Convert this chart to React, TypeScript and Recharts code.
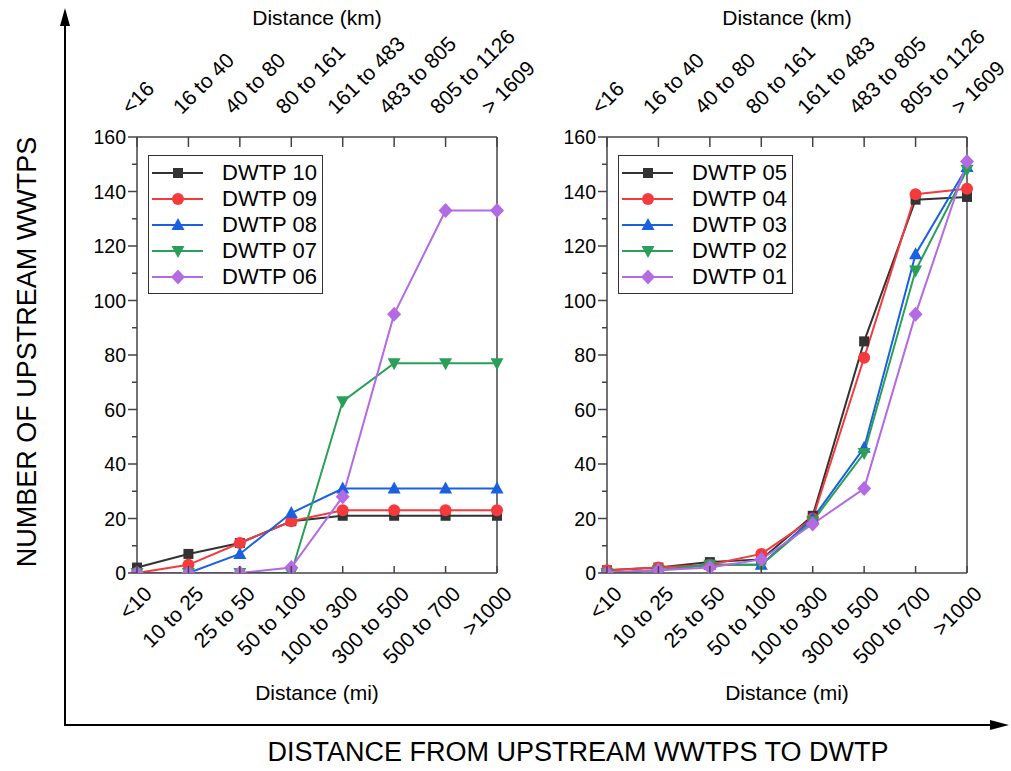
import { LineChart, Line, XAxis, YAxis, Legend, Label } from 'recharts';

const FONT = '"Liberation Sans", Arial, Helvetica, sans-serif';
const AXIS = '#444';

const miLabels = ['<10', '10 to 25', '25 to 50', '50 to 100', '100 to 300', '300 to 500', '500 to 700', '>1000'];
const kmLabels = ['<16', '16 to 40', '40 to 80', '80 to 161', '161 to 483', '483 to 805', '805 to 1126', '> 1609'];
const yTicks = [0, 10, 20, 30, 40, 50, 60, 70, 80, 90, 100, 110, 120, 130, 140, 150, 160];

// left panel
const dwtp10 = [2, 7, 11, 19, 21, 21, 21, 21];
const dwtp09 = [0, 3, 11, 19, 23, 23, 23, 23];
const dwtp08 = [0, 0, 7, 22, 31, 31, 31, 31];
const dwtp07 = [0, 0, 0, 0, 63, 77, 77, 77];
const dwtp06 = [0, 0, 0, 2, 28, 95, 133, 133];

// right panel
const dwtp05 = [1, 2, 4, 5, 21, 85, 137, 138];
const dwtp04 = [1, 2, 3, 7, 20, 79, 139, 141];
const dwtp03 = [0, 1, 3, 3, 20, 46, 117, 149];
const dwtp02 = [0, 1, 3, 3, 19, 44, 111, 148];
const dwtp01 = [0, 1, 2, 5, 18, 31, 95, 151];

const colors = ['#333333', '#f53a3e', '#1a60e0', '#2a9f5a', '#b36ae2'];
const shapes = ['square', 'circle', 'triangle', 'triangleDown', 'diamond'];

const leftSeries = [
    { name: 'DWTP 10', values: dwtp10 },
    { name: 'DWTP 09', values: dwtp09 },
    { name: 'DWTP 08', values: dwtp08 },
    { name: 'DWTP 07', values: dwtp07 },
    { name: 'DWTP 06', values: dwtp06 }
];

const rightSeries = [
    { name: 'DWTP 05', values: dwtp05 },
    { name: 'DWTP 04', values: dwtp04 },
    { name: 'DWTP 03', values: dwtp03 },
    { name: 'DWTP 02', values: dwtp02 },
    { name: 'DWTP 01', values: dwtp01 }
];

const Marker = ({ cx, cy, shape, color }: { cx: number; cy: number; shape: string; color: string }) => {
    if (cx == null || cy == null) return null;
    switch (shape) {
        case 'square':
            return <rect x={cx - 5} y={cy - 5} width={10} height={10} fill={color} />;
        case 'circle':
            return <circle cx={cx} cy={cy} r={6} fill={color} />;
        case 'triangle':
            return <polygon points={`${cx},${cy - 7} ${cx + 6.5},${cy + 5} ${cx - 6.5},${cy + 5}`} fill={color} />;
        case 'triangleDown':
            return <polygon points={`${cx},${cy + 7} ${cx + 6.5},${cy - 5} ${cx - 6.5},${cy - 5}`} fill={color} />;
        default:
            return <polygon points={`${cx},${cy - 7.5} ${cx + 7},${cy} ${cx},${cy + 7.5} ${cx - 7},${cy}`} fill={color} />;
    }
};

const YTick = ({ x, y, payload }: any) => {
    const major = payload.value % 20 === 0;
    return (
        <g>
            <line x1={x - (major ? 9 : 5)} x2={x} y1={y} y2={y} stroke={AXIS} strokeWidth={1.5} />
            {major && (
                <text x={x - 11} y={y} textAnchor="end" dominantBaseline="central" fontSize={19.5} fontFamily={FONT} fill="#000">
                    {payload.value}
                </text>
            )}
        </g>
    );
};

const BottomTick = ({ x, y, payload }: any) => {
    const tx = x + 11;
    const ty = y + 17;
    return (
        <g>
            <line x1={x} x2={x} y1={y} y2={y - 7} stroke={AXIS} strokeWidth={1.5} />
            <text x={tx} y={ty} textAnchor="end" dominantBaseline="central" fontSize={21} fontFamily={FONT} fill="#000"
                transform={`rotate(-45, ${tx}, ${ty})`}>
                {payload.value}
            </text>
        </g>
    );
};

const TopTick = ({ x, y, payload }: any) => {
    const tx = x - 12;
    const ty = y - 27;
    return (
        <g>
            <line x1={x} x2={x} y1={y} y2={y + 10} stroke={AXIS} strokeWidth={1.5} />
            <text x={tx} y={ty} textAnchor="start" dominantBaseline="central" fontSize={21} fontFamily={FONT} fill="#000"
                transform={`rotate(-45, ${tx}, ${ty})`}>
                {payload.value}
            </text>
        </g>
    );
};

const LegendBox = ({ series }: { series: { name: string }[] }) => (
    <div style={{ width: 175, height: 139, border: '1.5px solid #333', background: '#fff', boxSizing: 'border-box', paddingTop: 4 }}>
        {series.map((s, i) => (
            <div key={s.name} style={{ display: 'flex', alignItems: 'center', height: 26 }}>
                <svg width={70} height={26}>
                    <line x1={3} x2={54} y1={13} y2={13} stroke={colors[i]} strokeWidth={2} />
                    <Marker cx={29} cy={13} shape={shapes[i]} color={colors[i]} />
                </svg>
                <span style={{ fontFamily: FONT, fontSize: 22, color: '#000', marginLeft: 3 }}>{s.name}</span>
            </div>
        ))}
    </div>
);

const Panel = ({ series, left }: { series: { name: string; values: number[] }[]; left: number }) => {
    const data = miLabels.map((mi, i) => {
        const row: Record<string, any> = { mi, km: kmLabels[i] };
        series.forEach(s => { row[s.name] = s.values[i]; });
        return row;
    });

    return (
        <div style={{ position: 'absolute', left, top: 0 }}>
            <LineChart width={540} height={720} data={data} margin={{ top: 107, right: 33, left: 97, bottom: 97 }}>
                <XAxis xAxisId="bottom" dataKey="mi" height={50} interval={0} stroke={AXIS} strokeWidth={1.5}
                    tickLine={false} tickSize={0} tickMargin={0} tick={<BottomTick />}>
                    <Label value="Distance (mi)" position="bottom" offset={62} fontSize={21} fontFamily={FONT} fill="#000" />
                </XAxis>
                <XAxis xAxisId="top" orientation="top" dataKey="km" height={30} interval={0} stroke={AXIS} strokeWidth={1.5}
                    tickLine={false} tickSize={0} tickMargin={0} tick={<TopTick />}>
                    <Label value="Distance (km)" position="top" offset={82} fontSize={21} fontFamily={FONT} fill="#000" />
                </XAxis>
                <YAxis yAxisId="left" type="number" domain={[0, 160]} ticks={yTicks} interval={0} allowDataOverflow width={40}
                    stroke={AXIS} strokeWidth={1.5} tickLine={false} tickSize={0} tickMargin={0} tick={<YTick />} />
                <YAxis yAxisId="right" orientation="right" type="number" domain={[0, 160]} width={10}
                    stroke={AXIS} strokeWidth={1.5} tick={false} tickLine={false} />
                <Legend layout="vertical" align="center" verticalAlign="middle"
                    wrapperStyle={{ position: 'absolute', left: 148, top: 155, width: 175, height: 139 }}
                    content={() => <LegendBox series={series} />} />
                {series.map((s, i) => (
                    <Line key={s.name} xAxisId="bottom" yAxisId="left" type="linear" dataKey={s.name} stroke={colors[i]}
                        strokeWidth={2} isAnimationActive={false}
                        dot={(p: any) => <Marker key={`${s.name}-${p.index}`} cx={p.cx} cy={p.cy} shape={shapes[i]} color={colors[i]} />} />
                ))}
            </LineChart>
        </div>
    );
};

export default function App() {
    return (
        <div style={{ position: 'absolute', left: 0, top: 0, width: 1011, height: 771, background: '#fff', fontFamily: FONT }}>
            <svg width={1011} height={771} style={{ position: 'absolute', left: 0, top: 0 }}>
                <line x1={65} x2={65} y1={726} y2={22} stroke="#000" strokeWidth={2} />
                <polygon points="65,8 60,26 70,26" fill="#000" />
                <line x1={64} x2={992} y1={725} y2={725} stroke="#000" strokeWidth={2} />
                <polygon points="1009,725 990,720 990,730" fill="#000" />
                <text x={27} y={352} textAnchor="middle" dominantBaseline="central" fontSize={27} fontFamily={FONT}
                    transform="rotate(-90, 27, 352)">NUMBER OF UPSTREAM WWTPS</text>
                <text x={578} y={752} textAnchor="middle" dominantBaseline="central" fontSize={27} fontFamily={FONT}>
                    DISTANCE FROM UPSTREAM WWTPS TO DWTP
                </text>
            </svg>
            <Panel series={leftSeries} left={0} />
            <Panel series={rightSeries} left={470} />
        </div>
    );
}
